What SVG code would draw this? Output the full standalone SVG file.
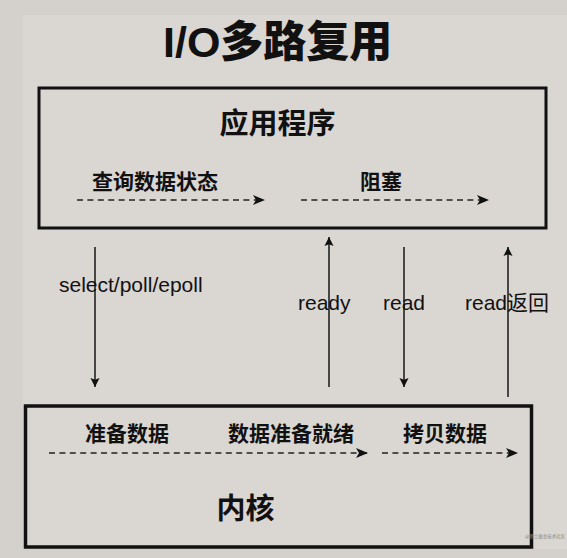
<svg xmlns="http://www.w3.org/2000/svg" width="567" height="558" viewBox="0 0 567 558">
<defs>
<style>
.cjk{font-family:"Noto Sans CJK SC","Liberation Sans",sans-serif;font-weight:bold;fill:#111}
.lat{font-family:"Liberation Sans","Noto Sans CJK SC",sans-serif;font-size:21px;fill:#111}
.box{fill:none;stroke:#111}
.dash{fill:none;stroke:#222;stroke-width:1.6;stroke-dasharray:6 4.4}
.solid{fill:none;stroke:#222;stroke-width:1.6}
</style>
<marker id="ah" viewBox="0 0 12 10" refX="11" refY="5" markerWidth="12" markerHeight="10" markerUnits="userSpaceOnUse" orient="auto">
<path d="M0,0 L12,5 L0,10 L3,5 Z" fill="#111"/>
</marker>
<marker id="av" viewBox="0 0 10 11" refX="10" refY="5" markerWidth="11" markerHeight="10" markerUnits="userSpaceOnUse" orient="auto">
<path d="M0,0 L10,5 L0,10 L2,5 Z" fill="#111"/>
</marker>
</defs>
<rect x="0" y="0" width="567" height="558" fill="#d4d0cc"/>
<rect x="23" y="15" width="544" height="534" fill="#dad6d2"/>
<text x="163" y="57" font-family="Liberation Sans, Noto Sans CJK SC, sans-serif" font-size="43" font-weight="bold" fill="#111">I/O<tspan font-family="Noto Sans CJK SC, sans-serif" font-weight="900">多路复用</tspan></text>
<g id="app">
<rect class="box" x="39" y="88" width="507" height="140" stroke-width="3"/>
<text class="cjk" x="277.5" y="134" font-size="29" text-anchor="middle">应用程序</text>
<text class="cjk" x="92" y="189" font-size="21">查询数据状态</text>
<text class="cjk" x="360" y="189" font-size="21">阻塞</text>
</g>
<g id="kernel">
<rect class="box" x="25.5" y="406" width="506" height="141" stroke-width="3.5"/>
<text class="cjk" x="85" y="441" font-size="21">准备数据</text>
<text class="cjk" x="228" y="441" font-size="21">数据准备就绪</text>
<text class="cjk" x="403" y="441" font-size="21">拷贝数据</text>
<text class="cjk" x="245.5" y="519" font-size="29" text-anchor="middle">内核</text>
</g>
<g id="connectors">
<line class="dash" x1="77" y1="200" x2="264" y2="200" marker-end="url(#ah)"/>
<line class="dash" x1="301" y1="200" x2="488" y2="200" marker-end="url(#ah)"/>
<line class="dash" x1="49" y1="453" x2="367" y2="453" marker-end="url(#ah)"/>
<line class="dash" x1="382" y1="453" x2="517" y2="453" marker-end="url(#ah)"/>
<line class="solid" x1="95" y1="247" x2="95" y2="387" marker-end="url(#av)"/>
<line class="solid" x1="329" y1="387" x2="329" y2="237" marker-end="url(#av)"/>
<line class="solid" x1="404" y1="247" x2="404" y2="387" marker-end="url(#av)"/>
<line class="solid" x1="508" y1="397" x2="508" y2="247" marker-end="url(#av)"/>
<text class="lat" x="59" y="292">select/poll/epoll</text>
<text class="lat" x="298" y="310">ready</text>
<text class="lat" x="383" y="310">read</text>
<text class="lat" x="465" y="310">read返回</text>
</g>
<text x="525" y="538" font-family="Noto Sans CJK SC, sans-serif" font-size="4.5" fill="#888">@稀土掘金技术社区</text>
</svg>
